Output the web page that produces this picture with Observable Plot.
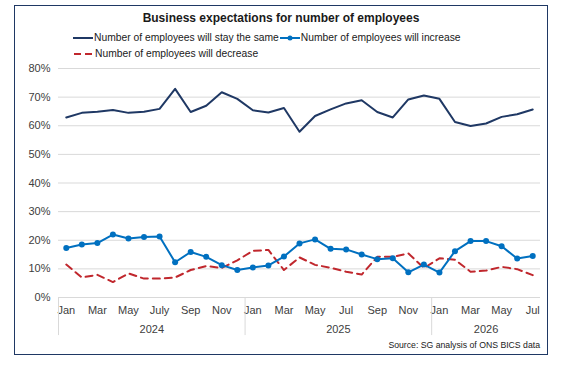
<!DOCTYPE html>
<html>
<head>
<meta charset="utf-8">
<script src="https://cdn.jsdelivr.net/npm/d3@7"></script>
<script src="https://cdn.jsdelivr.net/npm/@observablehq/plot@0.6"></script>
<style>
  html, body { margin: 0; padding: 0; background: #fff; }
  #wrap { position: relative; width: 568px; height: 368px; font-family: "Liberation Sans", Arial, sans-serif; color: #1a1a1a; overflow: hidden; }
  #frame { position: absolute; left: 14px; top: 5px; width: 532px; height: 348px; border: 1.5px solid #1f3864; }
  #title { position: absolute; left: 0; width: 562px; top: 11px; text-align: center; font-weight: bold; font-size: 12px; }
  .leg { position: absolute; font-size: 10.3px; white-space: nowrap; display: flex; align-items: center; }
  .leg svg { display: block; }
  #chart { position: absolute; left: 0; top: 60px; }
  #source { position: absolute; right: 28px; top: 340px; font-size: 8.7px; }
</style>
</head>
<body>
<div id="wrap">
  <div id="frame"></div>
  <div id="title">Business expectations for number of employees</div>
  <div class="leg" id="leg1" style="left:73px; top:32px;"></div>
  <div class="leg" id="leg2" style="left:74px; top:48px;"></div>
  <div id="chart"></div>
  <div id="source">Source: SG analysis of ONS BICS data</div>
</div>
<script>
// ---- Data ----
const months = [
  "2024-01","2024-02","2024-03","2024-04","2024-05","2024-06","2024-07","2024-08","2024-09","2024-10","2024-11","2024-12",
  "2025-01","2025-02","2025-03","2025-04","2025-05","2025-06","2025-07","2025-08","2025-09","2025-10","2025-11","2025-12",
  "2026-01","2026-02","2026-03","2026-04","2026-05","2026-06","2026-07"
];
const staySame = [62.9, 64.5, 64.9, 65.5, 64.5, 64.9, 65.9, 72.9, 64.8, 67.0, 71.7, 69.4,
                  65.4, 64.6, 66.2, 57.9, 63.4, 65.7, 67.8, 68.9, 64.8, 62.9, 69.2, 70.6,
                  69.4, 61.3, 59.9, 60.8, 63.1, 64.0, 65.7];
const increase = [17.3, 18.5, 19.0, 22.0, 20.6, 21.1, 21.3, 12.3, 15.9, 14.2, 11.3, 9.6,
                  10.5, 11.2, 14.3, 18.9, 20.3, 17.0, 16.8, 15.0, 13.4, 13.7, 8.8, 11.5,
                  8.7, 16.2, 19.7, 19.7, 17.9, 13.6, 14.5];
const decrease = [11.5, 7.0, 7.9, 5.4, 8.4, 6.6, 6.6, 7.0, 9.6, 11.0, 10.3, 13.0,
                  16.3, 16.6, 9.6, 14.0, 11.4, 10.4, 9.0, 8.0, 14.2, 14.2, 15.4, 10.3,
                  13.7, 13.2, 9.0, 9.4, 10.7, 9.9, 7.8];
const monthTickLabels = ["Jan","Mar","May","July","Sep","Nov","Jan","Mar","May","Jul","Sep","Nov","Jan","Mar","May","Jul"];
const years = ["2024","2025","2026"];
const yTicks = [0, 10, 20, 30, 40, 50, 60, 70, 80];
const seriesNames = ["Number of employees will stay the same", "Number of employees will increase", "Number of employees will decrease"];

// ---- Styles ----
const NAVY = "#1f3864", BLUE = "#0070c0", RED = "#c0272d";

// ---- Build tables ----
const rows = (vals) => vals.map((v, i) => ({i, month: months[i], v}));
const sameRows = rows(staySame), incRows = rows(increase), decRows = rows(decrease);

const yearSeg = years.map(y => {
  const idx = months.map((m, i) => m.startsWith(y) ? i : -1).filter(i => i >= 0);
  return {year: y, start: idx[0] - 0.5, end: idx[idx.length - 1] + 0.5, mid: (idx[0] + idx[idx.length - 1]) / 2};
});
const separators = yearSeg.map(d => d.start);
const tickIdx = monthTickLabels.map((_, k) => k * 2);

const chart = Plot.plot({
  width: 568,
  height: 280,
  marginLeft: 58,
  marginRight: 28,
  marginTop: 8,
  marginBottom: 43,
  style: {fontFamily: "'Liberation Sans', Arial, sans-serif", fontSize: "11px", color: "#404040", background: "transparent", overflow: "visible"},
  x: {type: "linear", domain: [-0.5, months.length - 0.5]},
  y: {domain: [0, 80]},
  marks: [
    Plot.gridY(yTicks, {stroke: "#d9d9d9", strokeOpacity: 1, strokeWidth: 1}),
    Plot.axisY(yTicks, {tickSize: 0, tickPadding: 8, tickFormat: d => d + "%", label: null, fill: "#404040"}),
    Plot.axisX(tickIdx, {tickSize: 0, tickPadding: 9, tickFormat: i => monthTickLabels[i / 2], label: null, fill: "#404040"}),
    Plot.ruleX(separators, {y1: 0, y2: -13.3, stroke: "#d9d9d9", strokeWidth: 1}),
    Plot.text(yearSeg, {x: "mid", y: 0, dy: 32, text: "year", fill: "#404040", fontSize: 11}),
    Plot.line(decRows, {x: "i", y: "v", stroke: RED, strokeWidth: 2, strokeDasharray: "7,5"}),
    Plot.line(sameRows, {x: "i", y: "v", stroke: NAVY, strokeWidth: 2}),
    Plot.line(incRows, {x: "i", y: "v", stroke: BLUE, strokeWidth: 2}),
    Plot.dot(incRows, {x: "i", y: "v", fill: BLUE, r: 3})
  ]
});
document.getElementById("chart").appendChild(chart);

// ---- Legend ----
function sample(color, dash, marker) {
  const ns = "http://www.w3.org/2000/svg";
  const s = document.createElementNS(ns, "svg");
  s.setAttribute("width", 20); s.setAttribute("height", 10);
  const l = document.createElementNS(ns, "line");
  l.setAttribute("x1", 0); l.setAttribute("x2", 20); l.setAttribute("y1", 5); l.setAttribute("y2", 5);
  l.setAttribute("stroke", color); l.setAttribute("stroke-width", 2);
  if (dash) l.setAttribute("stroke-dasharray", dash);
  s.appendChild(l);
  if (marker) {
    const c = document.createElementNS(ns, "circle");
    c.setAttribute("cx", 10); c.setAttribute("cy", 5); c.setAttribute("r", 2.5); c.setAttribute("fill", color);
    s.appendChild(c);
  }
  return s;
}
function item(parent, color, dash, marker, text, gap) {
  parent.appendChild(sample(color, dash, marker));
  const t = document.createElement("span");
  t.textContent = text;
  t.style.marginLeft = "1px";
  if (gap) t.style.marginRight = gap + "px";
  parent.appendChild(t);
}
const leg1 = document.getElementById("leg1"), leg2 = document.getElementById("leg2");
item(leg1, NAVY, null, false, seriesNames[0], 1);
item(leg1, BLUE, null, true, seriesNames[1], 0);
item(leg2, RED, "7,4", false, seriesNames[2], 0);
</script>
</body>
</html>
